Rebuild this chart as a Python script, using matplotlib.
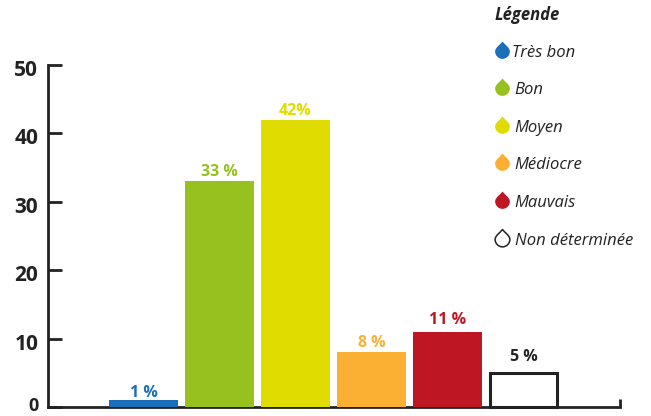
import matplotlib
matplotlib.use("Agg")
import matplotlib.pyplot as plt
from matplotlib.path import Path
from matplotlib.transforms import ScaledTranslation

categories = ["Très bon", "Bon", "Moyen", "Médiocre", "Mauvais", "Non déterminée"]
values = [1, 33, 42, 8, 11, 5]
labels = ["1 %", "33 %", "42%", "8 %", "11 %", "5 %"]
colors = ["#1B6FB8", "#97C11F", "#E0DC00", "#FBB034", "#BE1622", "#FFFFFF"]
text_colors = ["#1B6FB8", "#97C11F", "#E0DC00", "#FBB034", "#BE1622", "#222222"]
yticks = [0, 10, 20, 30, 40, 50]
legend_title = "Légende"

W, H = 651, 416
INK = "#222222"
fig = plt.figure(figsize=(W / 100, H / 100), dpi=100, facecolor="white")

# axes placed in pixels: x 48..620, y 65..407 (from the top)
ax = fig.add_axes([48 / W, (H - 407) / H, (620 - 48) / W, (407 - 65) / H])
ax.set_xlim(-1.2566, 6.27)
ax.set_ylim(0, 50)
ax.patch.set_alpha(0)

xs = list(range(len(values)))
ax.bar(xs[:-1], values[:-1], width=0.908, color=colors[:-1], linewidth=0,
       clip_on=False, zorder=3)
ax.bar(xs[-1], values[-1], width=0.89, facecolor="white", edgecolor=INK, linewidth=2.2,
       clip_on=False, zorder=3)

label_offsets_px = [-1, 1, 1, 1, 4, 8]
for x, v, lab, c, off in zip(xs, values, labels, text_colors, label_offsets_px):
    ax.annotate(lab, (x, v), xytext=(0, off * 0.72), textcoords="offset points",
                ha="center", va="bottom", color=c, fontsize=11.5,
                fontfamily="Open Sans", fontweight="bold", zorder=4,
                annotation_clip=False)

for s in ["top", "right"]:
    ax.spines[s].set_visible(False)
for s in ["left", "bottom"]:
    ax.spines[s].set_color(INK)
    ax.spines[s].set_linewidth(2.0)
ax.set_xticks([])
ax.set_yticks(yticks)
ax.tick_params(axis="y", direction="in", length=10, width=2.0, color=INK, pad=7)
fig.canvas.draw()
down = ScaledTranslation(0, -3 / 100, fig.dpi_scale_trans)
up = ScaledTranslation(0, 3 / 100, fig.dpi_scale_trans)
for t, v in zip(ax.get_yticklabels(), yticks):
    t.set_fontfamily("Open Sans")
    t.set_fontweight("bold")
    t.set_fontsize(15)
    t.set_color(INK)
    if v != 0:
        t.set_transform(t.get_transform() + down)
    else:
        t.set_fontsize(13)
        t.set_transform(t.get_transform() + up)

# closing tick at the right end of the baseline
ax.plot([1, 1], [0, 0.024], transform=ax.transAxes, color=INK, lw=2.0,
        clip_on=False, solid_capstyle="butt")

# legend, drawn in figure pixels
lg = fig.add_axes([0, 0, 1, 1])
lg.set_xlim(0, W)
lg.set_ylim(H, 0)
lg.axis("off")
lg.patch.set_alpha(0)

drop = Path(
    [(0, 1.35), (0.25, 1.0), (1.0, 0.55), (1.0, 0.0),
     (1.0, -0.55), (0.55, -1.0), (0, -1.0),
     (-0.55, -1.0), (-1.0, -0.55), (-1.0, 0.0),
     (-1.0, 0.55), (-0.25, 1.0), (0, 1.35), (0, 1.35)],
    [Path.MOVETO, Path.CURVE4, Path.CURVE4, Path.CURVE4,
     Path.CURVE4, Path.CURVE4, Path.CURVE4,
     Path.CURVE4, Path.CURVE4, Path.CURVE4,
     Path.CURVE4, Path.CURVE4, Path.CURVE4, Path.CLOSEPOLY],
)

rows_y = [51, 88, 126, 163, 201, 239]
text_x = [512, 514, 514, 514, 514, 515]
for cat, c, y, tx in zip(categories, colors, rows_y, text_x):
    hollow = c == "#FFFFFF"
    lg.scatter([502], [y], marker=drop, s=205,
               facecolor=c, edgecolor=INK if hollow else c,
               linewidth=1.1 if hollow else 0, zorder=3)
    lg.text(tx, y + 2, cat, fontfamily="Open Sans", style="italic", fontsize=12,
            color=INK, ha="left", va="center")
lg.text(495, 15, legend_title, fontfamily="Open Sans", style="italic", fontweight="bold",
        fontsize=12, color=INK, ha="left", va="center")

fig.savefig("out.png", dpi=100, facecolor="white")
